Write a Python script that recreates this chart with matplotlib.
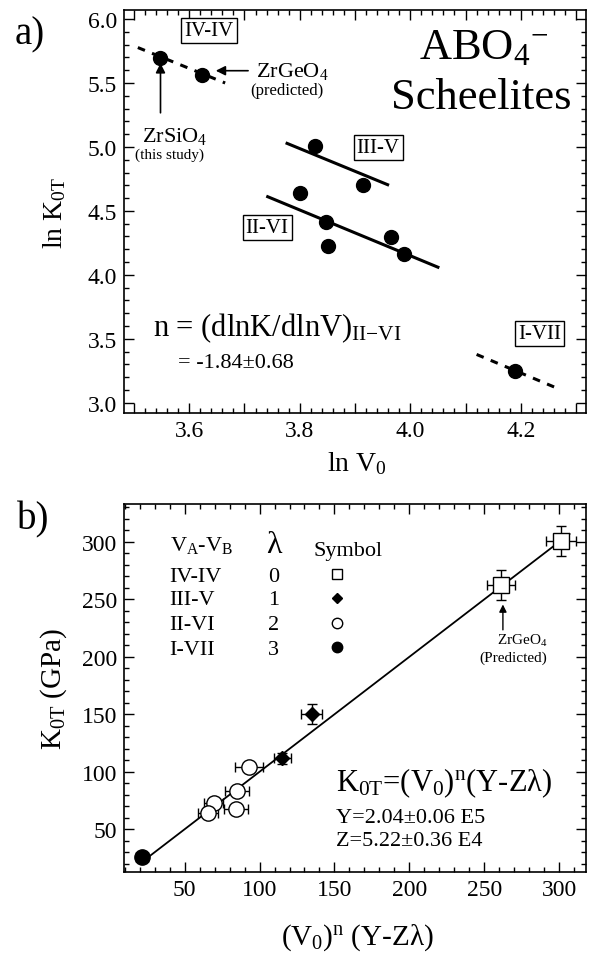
import matplotlib
matplotlib.use('Agg')
import matplotlib.pyplot as plt
from matplotlib.ticker import MultipleLocator, FuncFormatter

plt.rcParams['font.family'] = ['Liberation Serif', 'DejaVu Serif']
plt.rcParams['mathtext.fontset'] = 'custom'
plt.rcParams['mathtext.rm'] = 'Liberation Serif'
plt.rcParams['mathtext.it'] = 'Liberation Serif:italic'
plt.rcParams['mathtext.bf'] = 'Liberation Serif:bold'

# ---- panel a: ln K0T vs ln V0 ----
lnV_IV = [3.548, 3.624]
lnK_IV = [5.699, 5.565]
lnV_III = [3.827, 3.914]
lnK_III = [5.008, 4.705]
lnV_II = [3.801, 3.848, 3.852, 3.965, 3.988]
lnK_II = [4.637, 4.417, 4.223, 4.295, 4.163]
lnV_I = [4.189]
lnK_I = [3.252]

# fitted lines (end points)
fit_IV_x = [3.507, 3.665]
fit_IV_y = [5.777, 5.50]
fit_III_x = [3.777, 3.959]
fit_III_y = [5.028, 4.705]
fit_II_x = [3.742, 4.05]
fit_II_y = [4.611, 4.06]
fit_I_x = [4.120, 4.269]
fit_I_y = [3.378, 3.108]

# ---- panel b: K0T vs (V0)^n (Y-Z lambda) ----
sq_x = [301.3, 261.3]
sq_y = [300.6, 262.4]
sq_xerr = [10.1, 9.1]
sq_yerr = [12.9, 13.2]

dia_x = [135.0, 115.3]
dia_y = [150.3, 111.6]
dia_xerr = [7.0, 5.7]
dia_yerr = [8.3, 5.0]

oc_x = [93.0, 84.9, 84.2, 69.5, 65.7]
oc_y = [104.4, 83.4, 68.0, 73.0, 63.7]
oc_xerr = [9.2, 8.1, 8.2, 6.3, 6.5]

fc_x = [21.7]
fc_y = [25.6]
fc_xerr = [4.0]

fit_b_x = [23, 307]
fit_b_y = [23, 307]

groups = ['IV-IV', 'III-V', 'II-VI', 'I-VII']
lambdas = ['0', '1', '2', '3']
row_y = [266.2, 245.6, 224.1, 202.9]


def style(ax):
    ax.tick_params(which='both', direction='in', top=True, right=True,
                   labelsize=17, pad=5)
    ax.tick_params(which='major', length=7, width=1)
    ax.tick_params(which='minor', length=3.5, width=1)
    for s in ax.spines.values():
        s.set_linewidth(1.2)


fig = plt.figure(figsize=(5.92, 9.54), dpi=100)
ax1 = fig.add_axes([0.2095, 0.566, 0.7804, 0.4224])
ax2 = fig.add_axes([0.2095, 0.0852, 0.7804, 0.3854])

# ---------- a ----------
ax1.plot(fit_IV_x, fit_IV_y, color='k', lw=2.2, dashes=(2.5, 2.5))
ax1.plot(fit_III_x, fit_III_y, color='k', lw=2.2)
ax1.plot(fit_II_x, fit_II_y, color='k', lw=2.2)
ax1.plot(fit_I_x, fit_I_y, color='k', lw=2.2, dashes=(2.5, 2.5))
for xs, ys in [(lnV_IV, lnK_IV), (lnV_III, lnK_III), (lnV_II, lnK_II), (lnV_I, lnK_I)]:
    ax1.plot(xs, ys, 'o', color='k', ms=10, zorder=3)

box = dict(boxstyle='square,pad=0.15', fc='white', ec='k', lw=1)
ax1.text(3.636, 5.909, 'IV-IV', ha='center', va='center', fontsize=15, bbox=box)
ax1.text(3.942, 4.995, 'III-V', ha='center', va='center', fontsize=15, bbox=box)
ax1.text(3.741, 4.373, 'II-VI', ha='center', va='center', fontsize=15, bbox=box)
ax1.text(4.234, 3.541, 'I-VII', ha='center', va='center', fontsize=15, bbox=box)

arr = dict(arrowstyle='-|>', color='k', lw=1.2, shrinkA=0, shrinkB=0, mutation_scale=14)
ax1.annotate('', xy=(3.648, 5.596), xytext=(3.7065, 5.596), arrowprops=arr)
ax1.text(3.720, 5.596, 'ZrGeO$_4$', ha='left', va='center', fontsize=16)
ax1.text(3.776, 5.443, '(predicted)', ha='center', va='center', fontsize=12)
ax1.annotate('', xy=(3.548, 5.655), xytext=(3.548, 5.267), arrowprops=arr)
ax1.text(3.574, 5.09, 'ZrSiO$_4$', ha='center', va='center', fontsize=16)
ax1.text(3.564, 4.943, '(this study)', ha='center', va='center', fontsize=11)

ax1.text(4.133, 5.694, r'ABO$_4{}^{-}$', ha='center', va='baseline', fontsize=32)
ax1.text(4.129, 5.306, 'Scheelites', ha='center', va='baseline', fontsize=32)

ax1.text(3.535, 3.527, r'n = (dlnK/dlnV)$_{\mathrm{II{-}VI}}$', ha='left',
         va='baseline', fontsize=22)
ax1.text(3.58, 3.278, '= -1.84±0.68', ha='left', va='baseline', fontsize=16)

ax1.set_xlim(3.482, 4.318)
ax1.set_ylim(2.92, 6.07)
ax1.xaxis.set_major_locator(MultipleLocator(0.1))
ax1.xaxis.set_minor_locator(MultipleLocator(0.02))
ax1.xaxis.set_major_formatter(FuncFormatter(
    lambda v, p: '%.1f' % v if round(v * 10) % 2 == 0 else ''))
ax1.yaxis.set_major_locator(MultipleLocator(0.5))
ax1.yaxis.set_minor_locator(MultipleLocator(0.1))
ax1.yaxis.set_major_formatter(FuncFormatter(lambda v, p: '%.1f' % v))
style(ax1)
ax1.set_xlabel(r'ln V$_{\mathrm{0}}$', fontsize=20)
ax1.xaxis.set_label_coords(0.504, -0.089)
ax1.set_ylabel(r'ln K$_{\mathrm{0T}}$', fontsize=20)
ax1.yaxis.set_label_coords(-0.121, 0.5)

# ---------- b ----------
ax2.plot(fit_b_x, fit_b_y, color='k', lw=1.3, zorder=1)
eb = dict(ecolor='k', elinewidth=1, capsize=3.5, capthick=1, ls='none', zorder=2)
ax2.errorbar(sq_x, sq_y, xerr=sq_xerr, yerr=sq_yerr, fmt='s', ms=11.5,
             mfc='white', mec='k', mew=1, **eb)
ax2.errorbar(dia_x, dia_y, xerr=dia_xerr, yerr=dia_yerr, fmt='D', ms=7,
             mfc='k', mec='k', **eb)
ax2.errorbar(oc_x, oc_y, xerr=oc_xerr, fmt='o', ms=11, mfc='white',
             mec='k', mew=1, **eb)
ax2.errorbar(fc_x, fc_y, xerr=fc_xerr, fmt='o', ms=11, mfc='k', mec='k', **eb)

# legend table
ax2.text(39.9, 292.6, r'V$_{\mathrm{A}}$-V$_{\mathrm{B}}$', ha='left', va='baseline', fontsize=16)
ax2.text(109.5, 291.2, 'λ', ha='center', va='baseline', fontsize=23)
ax2.text(136.0, 288.8, 'Symbol', ha='left', va='baseline', fontsize=16)
for g, lam, yy in zip(groups, lambdas, row_y):
    ax2.text(39.9, yy, g, ha='left', va='baseline', fontsize=16)
    ax2.text(109.5, yy, lam, ha='center', va='baseline', fontsize=16)
sym_x = 152.0
ax2.plot([sym_x], [row_y[0] + 5.8], 's', ms=7.5, mfc='white', mec='k', mew=1)
ax2.plot([sym_x], [row_y[1] + 5.8], 'D', ms=5, mfc='k', mec='k')
ax2.plot([sym_x], [row_y[2] + 5.8], 'o', ms=7.5, mfc='white', mec='k', mew=1)
ax2.plot([sym_x], [row_y[3] + 5.8], 'o', ms=7.5, mfc='k', mec='k')

ax2.annotate('', xy=(262.5, 245.6), xytext=(262.5, 223.5),
             arrowprops=dict(arrowstyle='-|>', color='k', lw=1, shrinkA=0,
                             shrinkB=0, mutation_scale=11))
ax2.text(275.7, 214.7, 'ZrGeO$_4$', ha='center', va='center', fontsize=11)
ax2.text(269.4, 200.0, '(Predicted)', ha='center', va='center', fontsize=11)

ax2.text(151.2, 84, r'K$_{\mathrm{0T}}$=(V$_{\mathrm{0}}$)$^{\mathrm{n}}$(Y-Zλ)',
         ha='left', va='baseline', fontsize=22)
ax2.text(151.2, 56.4, 'Y=2.04±0.06 E5', ha='left', va='baseline', fontsize=16)
ax2.text(151.2, 36.0, 'Z=5.22±0.36 E4', ha='left', va='baseline', fontsize=16)

ax2.set_xlim(9.5, 318)
ax2.set_ylim(13, 333)
ax2.xaxis.set_major_locator(MultipleLocator(50))
ax2.xaxis.set_minor_locator(MultipleLocator(10))
ax2.yaxis.set_major_locator(MultipleLocator(50))
ax2.yaxis.set_minor_locator(MultipleLocator(10))
style(ax2)
ax2.set_xlabel(r'(V$_{\mathrm{0}}$)$^{\mathrm{n}}$ (Y-Zλ)', fontsize=21)
ax2.xaxis.set_label_coords(0.506, -0.135)
ax2.set_ylabel(r'K$_{\mathrm{0T}}$ (GPa)', fontsize=21)
ax2.yaxis.set_label_coords(-0.119, 0.5)

fig.text(0.025, 0.963, 'a)', fontsize=28, va='center', ha='left')
fig.text(0.029, 0.455, 'b)', fontsize=28, va='center', ha='left')

fig.savefig('out.png', dpi=100)
